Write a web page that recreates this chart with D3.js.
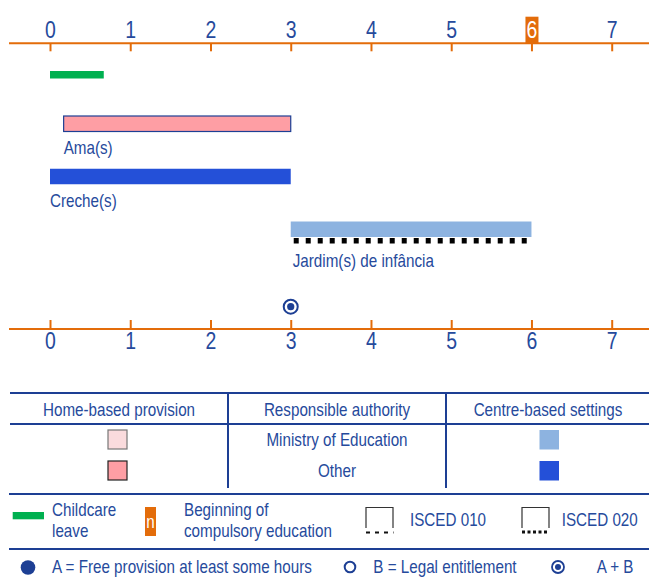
<!DOCTYPE html>
<html><head><meta charset="utf-8">
<script src="https://cdn.jsdelivr.net/npm/d3@7"></script>
<style>
html,body{margin:0;padding:0;background:#fff;}
svg{display:block;}
text{font-family:"Liberation Sans",Arial,sans-serif;fill:#264a9c;}
</style></head>
<body>
<svg id="c" width="649" height="579"></svg>
<script>
// ---------- data ----------
const ageTicks = [0,1,2,3,4,5,6,7];
const compulsoryAge = 6;
const leavePeriod = [0, 0.67];
const services = ["Ama(s)", "Creche(s)", "Jardim(s) de infância"];
const serviceStart = [0.17, 0, 3];
const serviceEnd = [3, 3, 6];
const serviceSetting = ["home", "centre", "centre"];
const serviceAuthority = ["other", "other", "moe"];
const serviceIsced = [null, null, "020"];
const entitlementAges = [3];
const entitlementTypes = ["AB"];
const tableHeaders = ["Home-based provision", "Responsible authority", "Centre-based settings"];
const authorities = ["Ministry of Education", "Other"];
const legendItems = ["Childcare", "leave", "Beginning of", "compulsory education", "ISCED 010", "ISCED 020"];
const markerLegend = ["A = Free provision at least some hours", "B = Legal entitlement", "A + B"];

// ---------- styles ----------
const ORANGE = "#e36c0a", BLUE_TXT = "#264a9c", LINE = "#1d3f94";
const NARROW = 0.845;
const fills = {home:{moe:"#fadbdd", other:"#fe9ea4"}, centre:{moe:"#8db3e0", other:"#2450d8"}};

const svg = d3.select("#c");
const x = d3.scaleLinear().domain([0,7]).range([50, 611.7]);

// narrow text helper (Arial-Narrow look)
function txt(str, tx, ty, opts={}){
  const t = svg.append("text").attr("transform",`translate(${tx},${ty}) scale(${NARROW},1)`)
    .attr("font-size",opts.size||18).text(str);
  if(opts.anchor) t.attr("text-anchor",opts.anchor);
  if(opts.fill) t.style("fill",opts.fill);
  return t;
}

// top axis
const topY = 43.3;
svg.append("line").attr("x1",9).attr("x2",649).attr("y1",topY).attr("y2",topY)
  .attr("stroke",ORANGE).attr("stroke-width",2);
const gTop = svg.append("g").attr("transform",`translate(0,${topY})`)
  .call(d3.axisTop(x).tickValues(ageTicks).tickSizeInner(-8).tickSizeOuter(0).tickPadding(5).tickFormat(d3.format("d")));
gTop.select(".domain").remove();
gTop.selectAll(".tick line").attr("stroke",ORANGE).attr("stroke-width",2);
gTop.selectAll(".tick").filter(d=>d===compulsoryAge).insert("rect","text")
  .attr("x",-6.5).attr("y",-26.6).attr("width",13).attr("height",26.6).attr("fill",ORANGE);
gTop.selectAll(".tick text").attr("font-size",23).attr("font-family",null)
  .attr("transform",`scale(${NARROW},1)`)
  .style("fill",d=>d===compulsoryAge?"#fff":BLUE_TXT);

// bottom axis
const botY = 329;
svg.append("line").attr("x1",9).attr("x2",649).attr("y1",botY).attr("y2",botY)
  .attr("stroke",ORANGE).attr("stroke-width",2);
const gBot = svg.append("g").attr("transform",`translate(0,${botY})`)
  .call(d3.axisBottom(x).tickValues(ageTicks).tickSizeInner(-9).tickSizeOuter(0).tickPadding(4).tickFormat(d3.format("d")));
gBot.select(".domain").remove();
gBot.selectAll(".tick line").attr("stroke",ORANGE).attr("stroke-width",2);
gBot.selectAll(".tick text").attr("font-size",23).attr("font-family",null)
  .attr("transform",`scale(${NARROW},1)`).style("fill",BLUE_TXT);

// childcare leave
svg.append("rect").attr("x",x(leavePeriod[0])).attr("y",71).attr("width",x(leavePeriod[1])-x(leavePeriod[0]))
  .attr("height",7.5).attr("fill","#00b050");

// services
const rowY = d3.scalePoint().domain(services).range([116, 221.5]);
const barH = 15.5;
services.forEach((s,i)=>{
  const y0 = rowY(s);
  const set = serviceSetting[i], auth = serviceAuthority[i];
  const r = svg.append("rect").attr("x",x(serviceStart[i])).attr("y",y0)
    .attr("width",x(serviceEnd[i])-x(serviceStart[i])).attr("height",barH)
    .attr("fill",fills[set][auth]);
  if(set==="home") r.attr("stroke",LINE).attr("stroke-width",1.2);
  let bottom = y0 + barH;
  if(serviceIsced[i]==="020"){
    svg.append("line").attr("x1",x(serviceStart[i])+3).attr("x2",x(serviceEnd[i]))
      .attr("y1",bottom+3.8).attr("y2",bottom+3.8).attr("stroke","#000").attr("stroke-width",5.5)
      .attr("stroke-dasharray","5,7");
    bottom += 7;
  }
  txt(s, x(serviceStart[i])+(i===2?2:0), bottom+22.5);
});

// entitlement markers
entitlementAges.forEach((a,i)=>{
  const g = svg.append("g").attr("transform",`translate(${x(a)},306.7)`);
  g.append("circle").attr("r",7).attr("fill","none").attr("stroke",LINE).attr("stroke-width",2);
  if(entitlementTypes[i]==="AB") g.append("circle").attr("r",3.6).attr("fill",LINE);
});

// table
const tl = (x1,y1,x2,y2)=>svg.append("line").attr("x1",x1).attr("y1",y1).attr("x2",x2).attr("y2",y2)
  .attr("stroke",LINE).attr("stroke-width",2);
tl(10,393,649,393); tl(10,424,649,424); tl(228,393,228,488); tl(446,393,446,488);
tl(9,494,649,494); tl(9,549,649,549);
const colX = [119, 337, 548];
tableHeaders.forEach((h,i)=>txt(h, colX[i], 416, {anchor:"middle"}));
const authKeys = ["moe","other"];
authorities.forEach((a,i)=>{
  const cy = 440 + i*31;
  txt(a, colX[1], cy+6, {anchor:"middle"});
  svg.append("rect").attr("x",108).attr("y",cy-10).attr("width",19).attr("height",19)
    .attr("fill",fills.home[authKeys[i]]).attr("stroke",i===0?"#777":"#222").attr("stroke-width",1.2);
  svg.append("rect").attr("x",539.5).attr("y",cy-10).attr("width",19.5).attr("height",19.5)
    .attr("fill",fills.centre[authKeys[i]]);
});

// legend row 1
svg.append("rect").attr("x",12.7).attr("y",512).attr("width",31.3).attr("height",7.3).attr("fill","#00b050");
txt(legendItems[0], 52, 516);
txt(legendItems[1], 52, 536.7);
svg.append("rect").attr("x",145).attr("y",507).attr("width",11).attr("height",29).attr("fill",ORANGE);
txt("n", 150.5, 528, {anchor:"middle", fill:"#fff"});
txt(legendItems[2], 184, 516);
txt(legendItems[3], 184, 536.7);
// ISCED icons
function iscedIcon(x0, dash, thick){
  const g = svg.append("g");
  g.append("path").attr("d",`M${x0},528 V507.5 H${x0+27} V528`).attr("fill","none").attr("stroke","#333").attr("stroke-width",1.2);
  g.append("line").attr("x1",x0).attr("x2",x0+27.5).attr("y1",532.5-thick/2+1).attr("y2",532.5-thick/2+1)
    .attr("stroke","#111").attr("stroke-width",thick).attr("stroke-dasharray",dash);
}
iscedIcon(366, "4,5", 2);
iscedIcon(522, "3,2.5", 3);
txt(legendItems[4], 410, 525.7);
txt(legendItems[5], 561.7, 525.7);

// legend row 2
svg.append("circle").attr("cx",28).attr("cy",567.5).attr("r",7.3).attr("fill",LINE);
txt(markerLegend[0], 52, 572.7);
svg.append("circle").attr("cx",350).attr("cy",567).attr("r",5.3).attr("fill","none").attr("stroke",LINE).attr("stroke-width",2);
txt(markerLegend[1], 373.3, 572.7);
svg.append("circle").attr("cx",558).attr("cy",567).attr("r",6).attr("fill","none").attr("stroke",LINE).attr("stroke-width",1.8);
svg.append("circle").attr("cx",558).attr("cy",567).attr("r",3).attr("fill",LINE);
txt(markerLegend[2], 596.7, 572.7);
</script>
</body></html>
